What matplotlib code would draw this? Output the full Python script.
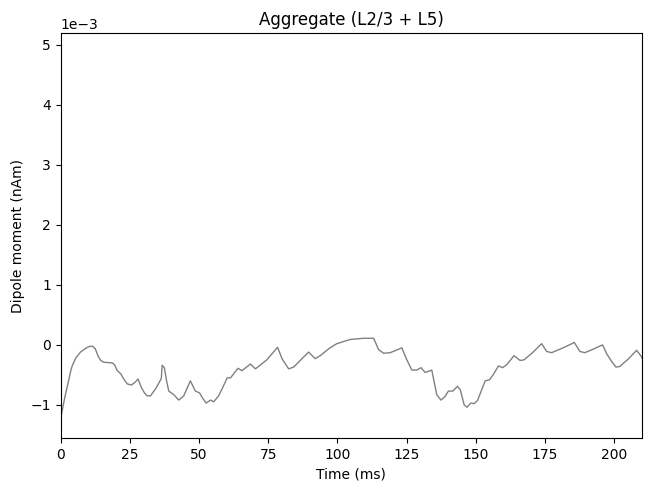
import numpy as np
import matplotlib
matplotlib.use("Agg")
import matplotlib.pyplot as plt

# Time points (ms) and aggregate dipole (x 1e-3 nAm)
times = [0.0, 0.5, 1.0, 1.8, 2.5, 3.0, 3.6, 4.2, 5.5, 7.2, 9.0, 10.2, 11.4, 12.5, 13.6,
         14.5, 15.6, 18.6, 19.5, 20.5, 21.7, 23.0, 24.1, 25.6, 27.0, 28.0, 29.2, 30.3,
         31.3, 32.5, 34.5, 36.4, 36.7, 37.5, 38.3, 39.1, 40.9, 42.7, 44.5, 46.9, 48.7,
         50.2, 51.5, 52.6, 54.2, 55.3, 57.1, 58.7, 60.2, 61.4, 64.1, 65.5, 68.6, 70.4,
         74.5, 78.4, 80.0, 82.4, 84.2, 89.6, 92.0, 93.8, 97.0, 99.8, 104.6, 109.5, 113.1,
         114.9, 116.7, 119.1, 123.3, 124.9, 126.9, 128.7, 130.2, 131.7, 134.1, 135.9,
         137.4, 138.9, 140.1, 141.7, 143.4, 144.4, 145.8, 146.8, 148.2, 149.4, 150.6,
         153.4, 155.0, 156.4, 158.2, 159.7, 161.2, 163.8, 166.0, 167.4, 170.5, 173.8,
         175.6, 177.4, 181.5, 185.6, 187.6, 189.4, 192.5, 195.8, 197.3, 198.7, 200.6,
         202.0, 205.0, 208.1, 209.9, 210.0]
dipole = [-1.25, -1.12, -1.0, -0.82, -0.68, -0.58, -0.45, -0.35, -0.22, -0.12, -0.06,
          -0.03, -0.02, -0.06, -0.19, -0.26, -0.29, -0.30, -0.33, -0.43, -0.48, -0.58,
          -0.65, -0.67, -0.62, -0.57, -0.71, -0.80, -0.85, -0.85, -0.72, -0.56, -0.34,
          -0.38, -0.60, -0.77, -0.83, -0.92, -0.85, -0.60, -0.77, -0.80, -0.90, -0.97,
          -0.92, -0.95, -0.85, -0.70, -0.55, -0.55, -0.39, -0.43, -0.32, -0.40, -0.25,
          -0.04, -0.23, -0.40, -0.37, -0.12, -0.23, -0.18, -0.06, 0.02, 0.09, 0.11, 0.11,
          -0.08, -0.14, -0.13, -0.05, -0.23, -0.42, -0.42, -0.38, -0.46, -0.42, -0.83,
          -0.92, -0.86, -0.77, -0.77, -0.69, -0.75, -1.00, -1.04, -0.97, -0.98, -0.93,
          -0.60, -0.58, -0.49, -0.35, -0.38, -0.33, -0.18, -0.26, -0.25, -0.13, 0.02,
          -0.11, -0.13, -0.05, 0.04, -0.11, -0.13, -0.07, 0.00, -0.15, -0.25, -0.37,
          -0.36, -0.24, -0.09, -0.20, -0.22]

t = np.array(times)
d = np.array(dipole) * 1e-3

fig, ax = plt.subplots(figsize=(6.51, 4.91), dpi=100)
fig.subplots_adjust(left=0.093, right=0.986, top=0.933, bottom=0.107)

ax.plot(t, d, color='grey', linewidth=1)

ax.set_xlim(0, 210)
ax.set_ylim(-1.56e-3, 5.2e-3)
ax.ticklabel_format(axis='y', style='sci', scilimits=(0, 0))
ax.set_xlabel("Time (ms)")
ax.set_ylabel("Dipole moment (nAm)")
ax.set_title("Aggregate (L2/3 + L5)")

plt.savefig("out.png", dpi=100)
